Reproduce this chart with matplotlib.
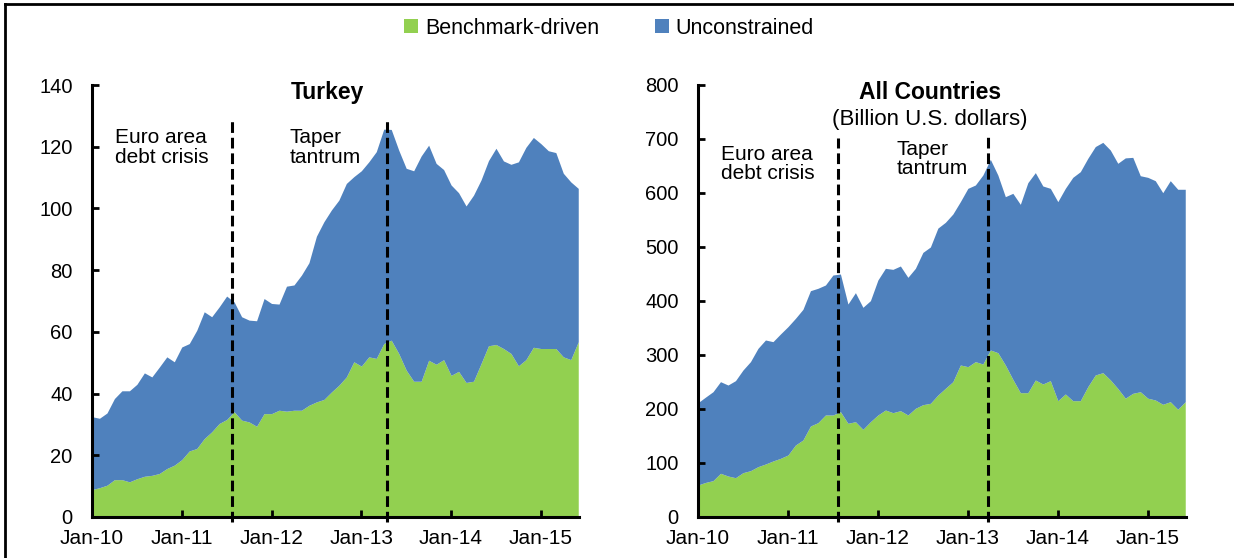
import matplotlib
matplotlib.use("Agg")
import matplotlib.pyplot as plt
import numpy as np
from matplotlib.patches import Patch
from matplotlib.lines import Line2D

plt.rcParams['font.family'] = ['Liberation Sans', 'DejaVu Sans']

# ---------------- data ----------------
tick_labels = ["Jan-10", "Jan-11", "Jan-12", "Jan-13", "Jan-14", "Jan-15"]
series_names = ["Benchmark-driven", "Unconstrained"]

turkey_total = [32.5, 32.0, 33.7, 38.4, 40.9, 40.9, 43.0, 46.7, 45.4, 48.6, 51.9, 50.3,
                55.1, 56.2, 60.5, 66.5, 64.9, 68.1, 71.6, 69.7, 64.9, 63.8, 63.6, 70.8,
                69.2, 69.0, 74.8, 75.2, 78.4, 82.4, 91.0, 95.7, 99.5, 102.7, 108.1, 110.3,
                112.2, 115.1, 118.4, 125.7, 125.6, 118.9, 113.0, 112.2, 117.0, 120.5, 114.6, 112.6,
                107.6, 105.1, 100.8, 104.3, 109.2, 115.5, 119.5, 115.4, 114.3, 115.1, 119.8, 123.0,
                121.0, 118.7, 118.1, 111.4, 108.6, 106.5]
turkey_bench = [8.9, 9.5, 10.3, 12.1, 12.1, 11.4, 12.4, 13.2, 13.5, 14.1, 15.7, 16.8,
                18.6, 21.4, 22.2, 25.4, 27.6, 30.3, 31.6, 34.1, 31.4, 30.8, 29.4, 33.5,
                33.5, 34.6, 34.3, 34.6, 34.6, 36.2, 37.3, 38.1, 40.5, 42.7, 45.4, 50.3,
                48.9, 51.9, 51.4, 56.2, 57.3, 53.0, 47.6, 44.0, 44.0, 50.8, 49.5, 51.0,
                45.9, 47.2, 43.6, 44.0, 49.7, 55.5, 55.9, 54.6, 53.0, 49.0, 51.0, 55.0,
                54.6, 54.6, 54.6, 51.9, 51.0, 56.8]

all_total = [211.7, 222.0, 232.0, 250.6, 244.4, 252.5, 272.2, 287.7, 312.3, 327.8, 324.7, 338.9,
             352.5, 367.9, 384.6, 419.1, 423.5, 429.6, 448.1, 450.0, 394.4, 415.4, 388.3, 400.6,
             438.9, 460.5, 458.6, 464.8, 443.8, 460.5, 490.0, 500.0, 535.0, 545.7, 561.1, 584.0,
             608.6, 614.8, 633.3, 662.3, 633.3, 593.2, 599.4, 579.0, 619.1, 637.7, 613.0, 608.6,
             584.0, 608.6, 629.0, 639.5, 664.2, 686.0, 693.8, 679.6, 655.0, 665.0, 666.0, 632.0,
             629.0, 622.8, 600.6, 622.8, 606.9, 606.9]
all_bench = [59.3, 64.0, 67.3, 80.9, 75.9, 72.8, 82.1, 85.8, 93.2, 98.1, 103.7, 108.6,
             114.8, 133.3, 142.6, 168.5, 174.7, 188.9, 188.9, 195.0, 173.5, 176.5, 162.3, 176.5,
             188.9, 198.1, 193.2, 196.9, 188.9, 201.2, 208.0, 210.5, 225.9, 238.3, 250.6, 281.5,
             278.4, 287.7, 283.3, 309.3, 304.3, 281.5, 254.9, 230.2, 230.2, 253.7, 246.3, 252.5,
             215.4, 227.8, 215.4, 215.4, 241.4, 263.0, 267.3, 254.0, 238.0, 220.0, 229.0, 232.0,
             220.0, 216.7, 208.7, 213.5, 199.5, 213.5]

# event lines (month index from Jan-10) per panel
turkey_events = [18.7, 39.5]
all_events = [18.7, 38.7]

GREEN = "#92D050"
BLUE = "#4F81BD"

fig = plt.figure(figsize=(12.34, 5.58), dpi=100)
W, H = 1234.0, 558.0

ax1 = fig.add_axes([92 / W, 41 / H, 487 / W, 432 / H])
ax2 = fig.add_axes([698 / W, 41 / H, 488 / W, 432 / H])


def draw_panel(ax, total, bench, ymax, ystep, events, ev_tops):
    x = np.arange(len(total))
    ax.fill_between(x, 0, bench, color=GREEN, lw=0, zorder=1)
    ax.fill_between(x, bench, total, color=BLUE, lw=0, zorder=1)
    ax.set_xlim(0, 65.1)
    ax.set_ylim(0, ymax)
    ax.set_yticks(np.arange(0, ymax + 1, ystep))
    ax.set_xticks(np.arange(0, 12 * len(tick_labels), 12))
    ax.set_xticklabels(tick_labels)
    for s in ["top", "right"]:
        ax.spines[s].set_visible(False)
    for s in ["left", "bottom"]:
        ax.spines[s].set_linewidth(2.2)
        ax.spines[s].set_zorder(5)
    ax.tick_params(axis="y", direction="in", length=5, width=2, pad=14, labelsize=14.5)
    ax.tick_params(axis="x", direction="in", length=5, width=2, pad=9, labelsize=15)
    for ev, top in zip(events, ev_tops):
        ax.plot([ev, ev], [-0.012 * ymax, top], color="black", lw=2.2,
                dashes=(3.5, 1.6), clip_on=False, zorder=4)
    ax.set_facecolor("white")


draw_panel(ax1, turkey_total, turkey_bench, 140, 20, turkey_events, [128.3, 129.0])
draw_panel(ax2, all_total, all_bench, 800, 100, all_events, [702, 707])

# titles
ax1.text(31.5, 137.7, "Turkey", ha="center", va="center", fontsize=16.5,
         fontweight="bold", clip_on=False)
ax2.text(30.9, 787, "All Countries", ha="center", va="center", fontsize=16.5,
         fontweight="bold", clip_on=False)
ax2.text(30.9, 737, "(Billion U.S. dollars)", ha="center", va="center", fontsize=16,
         clip_on=False)

# annotations
ax1.text(3.1, 119.7, "Euro area\ndebt crisis", ha="left", va="center", fontsize=15,
         linespacing=1.05)
ax1.text(26.4, 119.7, "Taper\ntantrum", ha="left", va="center", fontsize=15,
         linespacing=1.05)
ax2.text(3.1, 653.8, "Euro area\ndebt crisis", ha="left", va="center", fontsize=15,
         linespacing=1.05)
ax2.text(26.5, 663, "Taper\ntantrum", ha="left", va="center", fontsize=15,
         linespacing=1.05)

# legend
handles = [Patch(facecolor=GREEN, edgecolor="none"), Patch(facecolor=BLUE, edgecolor="none")]
fig.legend(handles, series_names, loc="center", bbox_to_anchor=(609 / W, 1 - 28 / H),
           ncol=2, frameon=False, fontsize=15.5, handlelength=0.65, handleheight=0.65,
           handletextpad=0.3, columnspacing=2.6, borderpad=0)

# outer frame (top and left edges visible)
fig.add_artist(Line2D([5 / W, 1.0], [1 - 4 / H, 1 - 4 / H], transform=fig.transFigure,
                      color="black", lw=2))
fig.add_artist(Line2D([5 / W, 5 / W], [0, 1 - 4 / H], transform=fig.transFigure,
                      color="black", lw=2))

fig.savefig("out.png", dpi=100, facecolor="white")
